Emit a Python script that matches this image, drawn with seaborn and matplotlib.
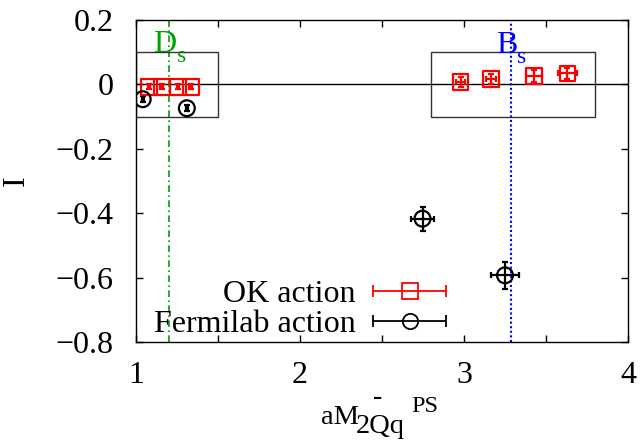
import numpy as np
import pandas as pd
import matplotlib
matplotlib.use("Agg")
import matplotlib.pyplot as plt
import seaborn as sns
from matplotlib.patches import Rectangle
from matplotlib.ticker import FixedLocator, FixedFormatter
from matplotlib.legend_handler import HandlerErrorbar
from matplotlib.container import ErrorbarContainer

# OK action results
ok_mass = [1.079, 1.157, 1.255, 1.334, 2.979, 3.163, 3.427, 3.631]
ok_I = [-0.007, -0.007, -0.007, -0.007, 0.008, 0.016, 0.027, 0.034]
ok_mass_err = [0.008, 0.008, 0.008, 0.008, 0.03, 0.03, 0.05, 0.06]
ok_I_err = [0.008, 0.008, 0.008, 0.008, 0.015, 0.015, 0.018, 0.018]

# Fermilab action results
fnal_mass = [1.041, 1.310, 2.747, 3.250]
fnal_I = [-0.046, -0.074, -0.417, -0.593]
fnal_mass_err = [0.005, 0.005, 0.073, 0.085]
fnal_I_err = [0.01, 0.01, 0.037, 0.042]

# physical meson masses
ds_mass = 1.20
bs_mass = 3.285

# tick labels
x_ticks = [1.0, 1.5, 2.0, 2.5, 3.0, 3.5, 4.0]
x_labels = ["1", "", "2", "", "3", "", "4"]
y_ticks = [-0.8, -0.6, -0.4, -0.2, 0.0, 0.2]
y_labels = ["\u22120.8", "\u22120.6", "\u22120.4", "\u22120.2", "0", "0.2"]

sns.set_theme(style="ticks")
plt.rcParams["font.family"] = ["Liberation Serif", "DejaVu Serif"]
plt.rcParams["axes.linewidth"] = 1.0
plt.rcParams["axes.edgecolor"] = "black"
plt.rcParams["text.color"] = "black"
plt.rcParams["axes.labelcolor"] = "black"

FS = 23

fig = plt.figure(figsize=(6.41, 4.41), dpi=100)
ax = fig.add_axes([136 / 641, 1 - 342 / 441, (628 - 136) / 641, (342 - 20) / 441])

ok_df = pd.DataFrame({"mass": ok_mass, "I": ok_I})
fnal_df = pd.DataFrame({"mass": fnal_mass, "I": fnal_I})

red = "#ff0000"
green = "#00a000"
blue = "#0000ff"

# reference lines and boxes
ax.axhline(0.0, color="black", lw=1.0, zorder=1)
ax.axvline(ds_mass, color=green, lw=1.2, ls=(0, (4, 2, 1, 2)), zorder=1)
ax.axvline(bs_mass, color=blue, lw=1.5, ls=(0, (1, 1.2)), zorder=1)
ax.add_patch(Rectangle((1.0, -0.1), 0.5, 0.2, fill=False, ec="#333333", lw=1.0, zorder=1))
ax.add_patch(Rectangle((2.8, -0.1), 1.0, 0.2, fill=False, ec="#333333", lw=1.0, zorder=1))

# error bars
ax.errorbar(ok_mass, ok_I, xerr=ok_mass_err, yerr=ok_I_err, fmt="none",
            ecolor=red, elinewidth=1.6, capsize=2.5, capthick=1.6, zorder=3)
ax.errorbar(fnal_mass, fnal_I, xerr=fnal_mass_err, yerr=fnal_I_err, fmt="none",
            ecolor="black", elinewidth=1.6, capsize=2.5, capthick=1.6, zorder=3)

# open markers
sns.scatterplot(data=ok_df, x="mass", y="I", ax=ax, marker="s", s=130,
                facecolor="none", edgecolor=red, linewidth=1.6, legend=False, zorder=4)
sns.scatterplot(data=fnal_df, x="mass", y="I", ax=ax, marker="o", s=130,
                facecolor="none", edgecolor="black", linewidth=1.6, legend=False, zorder=4)

# legend proxies
h_ok = ax.errorbar([np.nan], [np.nan], xerr=[0.1], fmt="s", ms=11, mfc="none",
                   mec=red, mew=1.3, color=red, ecolor=red, elinewidth=1.3,
                   capsize=4, capthick=1.3, label="OK action")
h_fn = ax.errorbar([np.nan], [np.nan], xerr=[0.1], fmt="o", ms=11, mfc="none",
                   mec="black", mew=1.3, color="black", ecolor="black", elinewidth=1.3,
                   capsize=4, capthick=1.3, label="Fermilab action")
leg = ax.legend(handles=[h_ok, h_fn], loc="lower right", bbox_to_anchor=(0.686, -0.07),
                frameon=False, markerfirst=False, fontsize=FS, handlelength=2.4,
                handletextpad=0.5, labelspacing=0.02, borderpad=0.3,
                handler_map={ErrorbarContainer: HandlerErrorbar(xerr_size=1.15)})

# meson labels: letter plus lowered subscript
ax.text(1.1055, 0.0997, "D", color=green, fontsize=23, ha="left", va="baseline")
ax.text(1.250, 0.071, "s", color=green, fontsize=17, ha="left", va="baseline")
ax.text(3.195, 0.0966, "B", color=blue, fontsize=23, ha="left", va="baseline")
ax.text(3.322, 0.066, "s", color=blue, fontsize=17, ha="left", va="baseline")

ax.set_xlim(1.0, 4.0)
ax.set_ylim(-0.8, 0.2)
ax.xaxis.set_major_locator(FixedLocator(x_ticks))
ax.xaxis.set_major_formatter(FixedFormatter(x_labels))
ax.yaxis.set_major_locator(FixedLocator(y_ticks))
ax.yaxis.set_major_formatter(FixedFormatter(y_labels))
ax.tick_params(direction="in", top=True, right=True, length=5, width=1.0,
               labelsize=FS, colors="black")
ax.tick_params(axis="x", pad=14)
ax.tick_params(axis="y", pad=16)
for s in ax.spines.values():
    s.set_visible(True)
    s.set_color("black")

# x-axis title: aM with subscript 2Q̄q (bar over Q) and superscript PS
ax.set_xlabel("")
fig.text(321.0 / 641, 1 - 424.3 / 441, "aM", fontsize=20.5, ha="left", va="baseline")
fig.text(356.0 / 641, 1 - 433.3 / 441, "2Qq", fontsize=20.5, ha="left", va="baseline")
fig.text(378.0 / 641, 1 - 404.0 / 441, "-", fontsize=20, ha="center", va="baseline")
fig.text(411.7 / 641, 1 - 411.7 / 441, "PS", fontsize=17.5, ha="left", va="baseline")
ax.set_ylabel("I", fontsize=FS, labelpad=18)

fig.savefig("out.png", dpi=100)
